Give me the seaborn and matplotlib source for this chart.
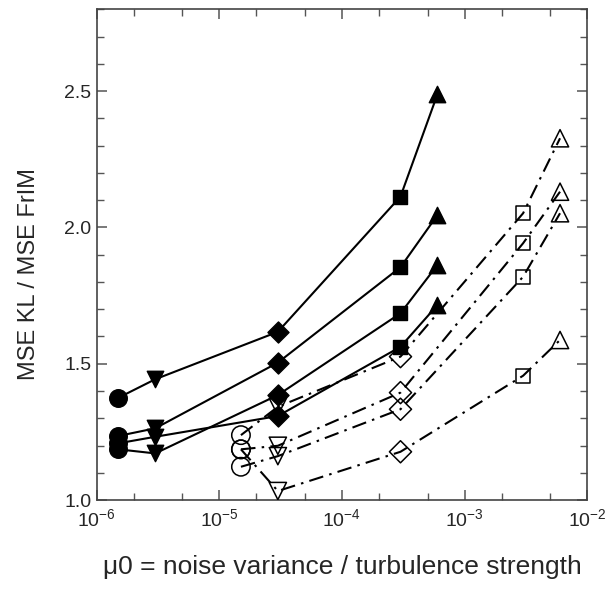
import numpy as np
import pandas as pd
import matplotlib
matplotlib.use("Agg")
import matplotlib.pyplot as plt
import seaborn as sns
from matplotlib.ticker import LogLocator, MultipleLocator, FormatStrFormatter

# valori
x_filled = [1.5e-6, 3e-6, 3e-5, 3e-4, 6e-4]
x_open = [1.5e-5, 3e-5, 3e-4, 3e-3, 6e-3]

filled_a = [1.375, 1.443, 1.617, 2.113, 2.488]
filled_b = [1.235, 1.263, 1.504, 1.854, 2.045]
filled_c = [1.186, 1.171, 1.385, 1.685, 1.862]
filled_d = [1.208, 1.232, 1.308, 1.562, 1.715]

open_a = [1.238, 1.342, 1.526, 2.052, 2.327]
open_b = [1.186, 1.199, 1.394, 1.942, 2.131]
open_c = [1.122, 1.161, 1.333, 1.819, 2.052]
open_d = [1.186, 1.033, 1.177, 1.456, 1.587]

point_markers = ["o", "v", "D", "s", "^"]

x_label = "\u03bc0 = noise variance / turbulence strength"
y_label = "MSE KL / MSE FrIM"

sns.set_style("ticks")
plt.rcParams["font.family"] = ["Liberation Sans", "DejaVu Sans"]
plt.rcParams["mathtext.default"] = "regular"

# tabella lunga con tutte le serie
rows = []
for name, ys in [("fa", filled_a), ("fb", filled_b), ("fc", filled_c), ("fd", filled_d)]:
    for x, y, m in zip(x_filled, ys, point_markers):
        rows.append({"serie": name, "x": x, "y": y, "marker": m, "kind": "filled"})
for name, ys in [("oa", open_a), ("ob", open_b), ("oc", open_c), ("od", open_d)]:
    for x, y, m in zip(x_open, ys, point_markers):
        rows.append({"serie": name, "x": x, "y": y, "marker": m, "kind": "open"})
df = pd.DataFrame(rows)

fig = plt.figure(figsize=(6.16, 5.90), dpi=100)
ax = fig.add_axes([0.157, 0.1525, 0.7963, 0.8317])

# linee: continue per i pieni, tratto-punto per i vuoti
for name, sub in df.groupby("serie"):
    sns.lineplot(data=sub, x="x", y="y", ax=ax, color="black", lw=1.5,
                 sort=False, estimator=None, legend=False)
    if sub["kind"].iloc[0] == "open":
        ax.lines[-1].set_dashes([7, 3, 1.2, 3])

# marcatori
sizes = {"o": 160, "v": 140, "D": 115, "s": 90, "^": 140}
for m in point_markers:
    sub = df[(df["marker"] == m) & (df["kind"] == "filled")]
    sns.scatterplot(data=sub, x="x", y="y", ax=ax, marker=m, s=sizes[m],
                    color="black", edgecolor="black", linewidth=1, zorder=4, legend=False)
    sub = df[(df["marker"] == m) & (df["kind"] == "open")]
    sns.scatterplot(data=sub, x="x", y="y", ax=ax, marker=m, s=sizes[m] * 1.1,
                    facecolor="none", edgecolor="black", linewidth=1.1, zorder=4, legend=False)

ax.set_xscale("log")
ax.set_xlim(1e-6, 1e-2)
ax.set_ylim(1.0, 2.8)
ax.xaxis.set_major_locator(LogLocator(base=10, numticks=10))
ax.xaxis.set_minor_locator(LogLocator(base=10, subs=[2, 5], numticks=20))
ax.yaxis.set_major_locator(MultipleLocator(0.5))
ax.yaxis.set_minor_locator(MultipleLocator(0.1))
ax.yaxis.set_major_formatter(FormatStrFormatter("%.1f"))

ax.tick_params(which="both", direction="in", top=True, right=True, color="#555555",
               labelsize=14)
ax.tick_params(axis="x", which="major", pad=6)
ax.tick_params(axis="y", which="major", pad=4)
ax.tick_params(which="major", length=7, width=1.1)
ax.tick_params(which="minor", length=4.8, width=1.0)
for s in ax.spines.values():
    s.set_color("#444444")
    s.set_linewidth(1.2)

ax.set_xlabel(x_label, fontsize=19, labelpad=18)
ax.set_ylabel(y_label, fontsize=17)
ax.yaxis.set_label_coords(-0.115, 0.46)

fig.savefig("out.png", dpi=100)
